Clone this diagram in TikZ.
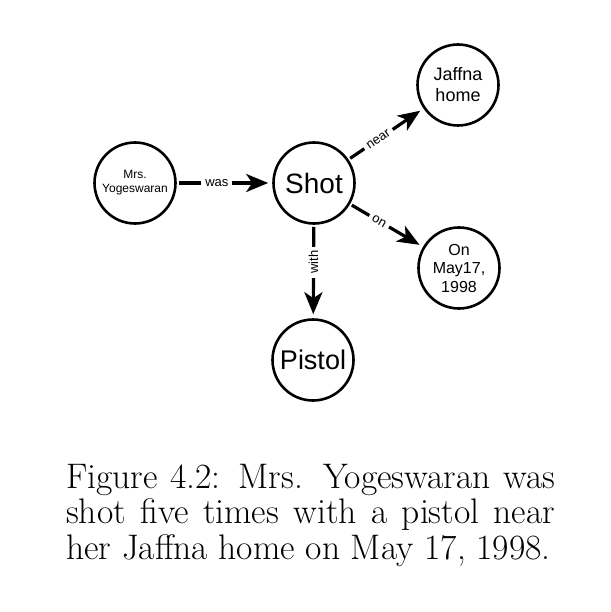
\documentclass[tikz,border=0pt]{standalone}
\usepackage{fontspec}
\newfontfamily\helv{Liberation Sans}
\usetikzlibrary{positioning, arrows.meta}

\begin{document}
\begin{tikzpicture}[
    x=1pt, y=-1pt,
    >={Stealth[length=22pt, width=18pt, inset=6pt]},
    ent/.style={draw, circle, line width=2.6pt, minimum size=81pt, inner sep=0pt, align=center},
    rel/.style={->, line width=3.2pt, shorten <=2pt, shorten >=4pt},
    lbl/.style={fill=white, inner sep=4pt, font=\helv\fontsize{13}{14}\selectfont},
]
\useasboundingbox (0,0) rectangle (610,612);

% Entities
\node[ent, font=\helv\fontsize{12}{14}\selectfont] (mrs) at (135,183) {Mrs.\\Yogeswaran};
\node[ent, font=\helv\fontsize{28}{30}\selectfont] (shot) at (314,183) {Shot};
\node[ent, font=\helv\fontsize{18}{21}\selectfont] (jaffna) at (458,85) {Jaffna\\home};
\node[ent, font=\helv\fontsize{16}{18.5}\selectfont] (date) at (459,268) {On\\May17,\\1998};
\node[ent, font=\helv\fontsize{27}{29}\selectfont] (pistol) at (313,360) {Pistol};

% Relations
\draw[rel] (mrs) -- node[lbl, pos=0.42] {was} (shot);
\draw[rel] (shot) -- node[lbl, sloped, pos=0.4] {near} (jaffna);
\draw[rel] (shot) -- node[lbl, sloped, pos=0.4] {on} (date);
\draw[rel] (shot) -- node[lbl, rotate=90, pos=0.4] {with} (pistol);

% Caption
\node[anchor=north west, inner sep=0pt, text width=489pt, align=justify,
      font=\fontsize{35.5}{35.5}\selectfont] (caption) at (66,464)
    {Figure 4.2: Mrs. Yogeswaran was\linebreak shot five times with a pistol near\linebreak her Jaffna home on May 17, 1998.};

\end{tikzpicture}
\end{document}
